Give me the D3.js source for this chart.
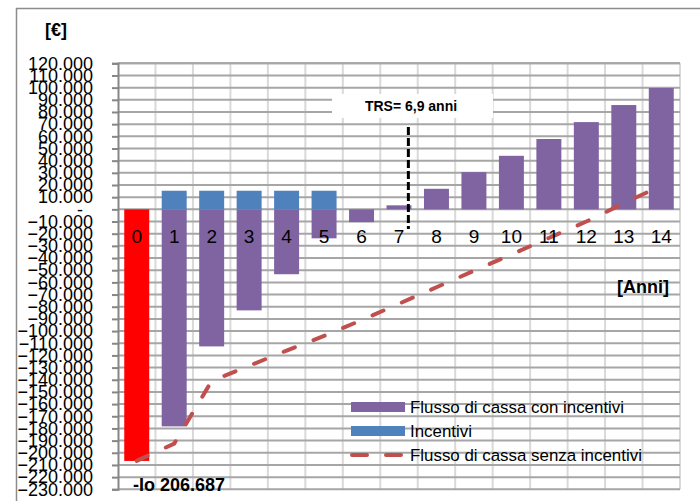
<!DOCTYPE html>
<html>
<head>
<meta charset="utf-8">
<script src="https://cdn.jsdelivr.net/npm/d3@7"></script>
<style>
  body { margin: 0; background: #fff; }
  text { font-family: "Liberation Sans", Arial, sans-serif; }
</style>
</head>
<body>
<script>

// anni (categorie)
var anni = ["0", "1", "2", "3", "4", "5", "6", "7", "8", "9", "10", "11", "12", "13", "14"];

// flusso di cassa con incentivi (anno 0 = investimento iniziale, in rosso)
var flussoConIncentivi = [-206687, -178300, -112600, -83000, -53300, -23800, -10500, 3300, 16900, 30600, 44000, 57800, 71700, 85700, 99700];

// incentivi
var incentivi = [0, 15300, 15300, 15300, 15300, 15300, 0, 0, 0, 0, 0, 0, 0, 0, 0];

// flusso di cassa senza incentivi
var flussoSenzaIncentivi = [-206687, -192500, -141000, -128500, -116000, -104000, -91000, -77500, -64000, -50500, -37000, -23500, -10000, 5000, 19500];

// tick asse y
var yTicks = d3.range(-230000, 130000, 10000);

var legendLabels = ["Flusso di cassa con incentivi", "Incentivi", "Flusso di cassa senza incentivi"];

var trsLabel = "TRS= 6,9 anni";
var trsPos = 7.75;   // posizione della linea TRS in unita' di categoria
var ioLabel = "-Io 206.687";

var width = 700, height = 501;

var colPurple = "#8064A2", colBlue = "#4F81BD", colRed = "#FF0000", colLine = "#C0504D";

var svg = d3.select("body").append("svg")
    .attr("width", width)
    .attr("height", height);

svg.append("rect").attr("width", width).attr("height", height).attr("fill", "#fff");

// bordo esterno del grafico
svg.append("rect")
    .attr("x", 16.5).attr("y", 8.5)
    .attr("width", 700).attr("height", 520)
    .attr("fill", "none")
    .attr("stroke", "#8c8c8c")
    .attr("stroke-width", 1.5);

// scale
var x = d3.scaleBand().domain(anni).range([118, 680]).paddingInner(1 / 3).paddingOuter(1 / 6);
var xb = d3.scaleLinear().domain([0, anni.length]).range([118, 680]);
var y = d3.scaleLinear().domain([-230000, 120000]).range([489.3, 63.3]);

var it = d3.formatLocale({ decimal: ",", thousands: ".", grouping: [3], currency: ["€", ""] });
var fmt = it.format(",");

// griglia verticale
svg.append("g").selectAll("line")
    .data(d3.range(1, anni.length + 1))
  .enter().append("line")
    .attr("x1", function(d) { return xb(d); })
    .attr("x2", function(d) { return xb(d); })
    .attr("y1", y(120000)).attr("y2", y(-230000))
    .attr("stroke", "#d9d9d9")
    .attr("stroke-width", 2);

// griglia orizzontale
svg.append("g").selectAll("line")
    .data(yTicks.concat([120000]))
  .enter().append("line")
    .attr("x1", 118).attr("x2", 680)
    .attr("y1", function(d) { return y(d); })
    .attr("y2", function(d) { return y(d); })
    .attr("stroke", "#a6a6a6")
    .attr("stroke-width", 2);

// barre con incentivi (anno 0 in rosso)
svg.append("g").selectAll("rect")
    .data(flussoConIncentivi)
  .enter().append("rect")
    .attr("x", function(d, i) { return x(anni[i]); })
    .attr("width", x.bandwidth())
    .attr("y", function(d) { return y(Math.max(0, d)); })
    .attr("height", function(d) { return Math.abs(y(d) - y(0)); })
    .attr("fill", function(d, i) { return i == 0 ? colRed : colPurple; });

// barre incentivi (impilate sopra lo zero)
svg.append("g").selectAll("rect")
    .data(incentivi)
  .enter().append("rect")
    .attr("x", function(d, i) { return x(anni[i]); })
    .attr("width", x.bandwidth())
    .attr("y", function(d, i) { return y(Math.max(0, flussoConIncentivi[i]) + d); })
    .attr("height", function(d) { return y(0) - y(d); })
    .attr("fill", colBlue);

// linea tratteggiata senza incentivi
var line = d3.line()
    .x(function(d, i) { return x(anni[i]) + x.bandwidth() / 2; })
    .y(function(d) { return y(d); });

svg.append("path")
    .datum(flussoSenzaIncentivi)
    .attr("d", line)
    .attr("fill", "none")
    .attr("stroke", colLine)
    .attr("stroke-width", 4)
    .attr("stroke-linecap", "round")
    .attr("stroke-dasharray", "12,20");

// asse y
var yAxis = svg.append("g")
    .attr("transform", "translate(118,0)")
    .call(d3.axisLeft(y).tickValues(yTicks).tickSize(6).tickPadding(19)
      .tickFormat(function(d) { return d == 0 ? "-" : fmt(d); }));

yAxis.select(".domain").attr("stroke", "#868686").attr("stroke-width", 2);
yAxis.selectAll(".tick line").attr("stroke", "#868686").attr("stroke-width", 2);
yAxis.selectAll(".tick text")
    .attr("fill", "#000")
    .style("font-size", "18px")
    .attr("dx", function(d) { return d == 0 ? -10 : 0; });

// etichette categorie dentro al grafico
svg.append("g").selectAll("text")
    .data(anni)
  .enter().append("text")
    .attr("x", function(d) { return x(d) + x.bandwidth() / 2; })
    .attr("y", y(0) + 28)
    .attr("dy", "0.32em")
    .attr("text-anchor", "middle")
    .style("font-size", "19px")
    .text(function(d) { return d; });

// titoli assi
svg.append("text")
    .attr("x", 45).attr("y", 30).attr("dy", "0.35em")
    .style("font-size", "18px").style("font-weight", "bold")
    .text("[€]");

svg.append("text")
    .attr("x", 669).attr("y", 287).attr("dy", "0.35em")
    .attr("text-anchor", "end")
    .style("font-size", "18px").style("font-weight", "bold")
    .text("[Anni]");

// annotazione TRS
svg.append("rect")
    .attr("x", 332).attr("y", 94)
    .attr("width", 161).attr("height", 24)
    .attr("fill", "#fff");

svg.append("text")
    .attr("x", 411).attr("y", 106).attr("dy", "0.35em")
    .attr("text-anchor", "middle")
    .style("font-size", "14px").style("font-weight", "bold")
    .text(trsLabel);

svg.append("line")
    .attr("x1", xb(trsPos)).attr("x2", xb(trsPos))
    .attr("y1", 127).attr("y2", 229)
    .attr("stroke", "#000")
    .attr("stroke-width", 3)
    .attr("stroke-dasharray", "8,3");

svg.append("text")
    .attr("x", 133).attr("y", 485).attr("dy", "0.35em")
    .style("font-size", "18px").style("font-weight", "bold")
    .text(ioLabel);

// legenda
var legend = svg.append("g").attr("transform", "translate(351,407)");

legend.selectAll("g")
    .data(legendLabels)
  .enter().append("g")
    .attr("transform", function(d, i) { return "translate(0," + (i * 24) + ")"; })
    .each(function(d, i) {
      var g = d3.select(this);
      if (i < 2) {
        g.append("rect")
          .attr("x", 0).attr("y", -5)
          .attr("width", 54).attr("height", 10)
          .attr("fill", i == 0 ? colPurple : colBlue);
      } else {
        g.append("line")
          .attr("x1", 1).attr("x2", 52)
          .attr("stroke", colLine)
          .attr("stroke-width", 4)
          .attr("stroke-linecap", "round")
          .attr("stroke-dasharray", "15,19");
      }
      g.append("text")
        .attr("x", 59).attr("dy", "0.35em")
        .style("font-size", "16.9px")
        .text(d);
    });

</script>
</body>
</html>
